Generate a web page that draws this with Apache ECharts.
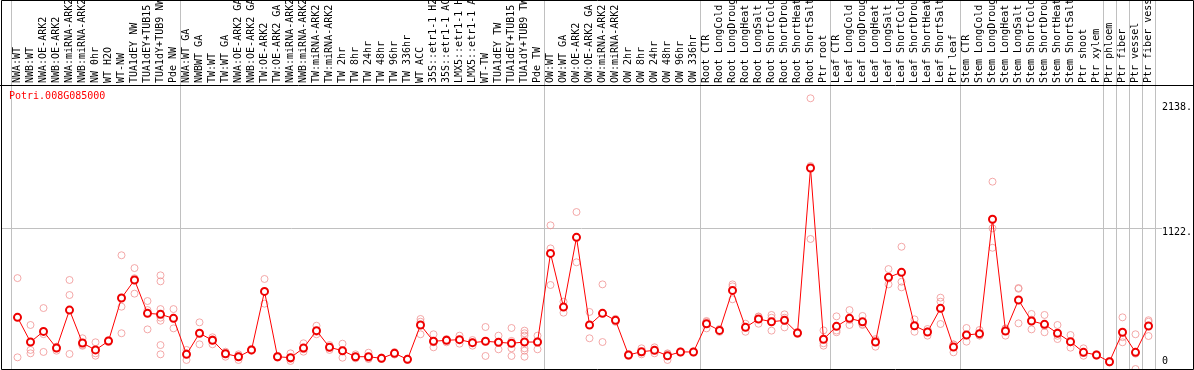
<!DOCTYPE html>
<html>
<head>
<meta charset="utf-8">
<script src="https://cdn.jsdelivr.net/npm/echarts@6/dist/echarts.min.js"></script>
<style>
html,body{margin:0;padding:0;background:#fff;}
#c{width:1194px;height:370px;}
</style>
</head>
<body>
<div id="c"></div>
<script>
const chartTitle = 'Potri.008G085000';

const categories = [
  'NWA:WT','NWB:WT','NWA:OE-ARK2','NWB:OE-ARK2','NWA:miRNA-ARK2','NWB:miRNA-ARK2','NW 0hr','WT H2O','WT-NW',
  'TUA1dEY NW','TUA1dEY+TUB15 NW','TUA1dY+TUB9 NW','Pde NW',
  'NWA:WT GA','NWBWT GA','TW:WT','TW:WT GA','NWA:OE-ARK2 GA','NWB:OE-ARK2 GA','TW:OE-ARK2','TW:OE-ARK2 GA',
  'NWA:miRNA-ARK2','NWB:miRNA-ARK2','TW:miRNA-ARK2','TW:miRNA-ARK2','TW 2hr','TW 8hr','TW 24hr','TW 48hr',
  'TW 96hr','TW 336hr','WT ACC','35S::etr1-1 H2O','35S::etr1-1 ACC','LMX5::etr1-1 H2O','LMX5::etr1-1 ACC',
  'WT-TW','TUA1dEY TW','TUA1dEY+TUB15 TW','TUA1dY+TUB9 TW','Pde TW',
  'OW:WT','OW:WT GA','OW:OE-ARK2','OW:OE-ARK2 GA','OW:miRNA-ARK2','OW:miRNA-ARK2','OW 2hr','OW 8hr','OW 24hr',
  'OW 48hr','OW 96hr','OW 336hr',
  'Root CTR','Root LongCold','Root LongDrought','Root LongHeat','Root LongSalt','Root ShortCold',
  'Root ShortDrought','Root ShortHeat','Root ShortSalt','Ptr root',
  'Leaf CTR','Leaf LongCold','Leaf LongDrought','Leaf LongHeat','Leaf LongSalt','Leaf ShortCold',
  'Leaf ShortDrought','Leaf ShortHeat','Leaf ShortSalt','Ptr leaf',
  'Stem CTR','Stem LongCold','Stem LongDrought','Stem LongHeat','Stem LongSalt','Stem ShortCold',
  'Stem ShortDrought','Stem ShortHeat','Stem ShortSalt','Ptr shoot','Ptr xylem',
  'Ptr phloem','Ptr fiber','Ptr vessel','Ptr fiber vessel'
];

// number of categories in each separated group (left to right)
const groupSizes = [13, 28, 12, 10, 10, 11, 1, 1, 1, 1];

const means = [
  412, 215, 300, 167, 470, 207, 152, 223, 566, 710, 444, 436, 404,
  117, 285, 229, 122, 98, 152, 619, 98, 90, 167, 306, 173, 146, 98, 98, 85, 125, 77, 351,
  221, 229, 234, 210, 221, 213, 205, 215, 215,
  922, 494, 1050, 351, 444, 388, 112, 138, 149, 106, 136, 136,
  361, 308, 627, 332, 399, 377, 388, 287, 1603, 237,
  340, 404, 377, 215, 731, 771, 345, 295, 484, 175,
  271, 282, 1194, 303, 550, 383, 356, 285, 218, 133, 112,
  58, 293, 133, 343
];

const replicates = [
  [725, 93], [351, 152, 125], [486, 136, 278], [178, 146, 177], [710, 590, 120], [245, 191, 185],
  [213, 125, 106], [230, 215, 224], [907, 497, 285], [805, 601, 724], [542, 470, 316],
  [747, 699, 478, 409, 385, 191, 117], [478, 324],
  [152, 72, 127], [372, 197], [253, 197, 237], [138, 98, 130], [117, 72, 105], [160, 145, 151],
  [718, 521], [105, 90], [125, 64, 81], [205, 138, 158], [345, 277, 296], [191, 152, 176],
  [202, 90], [117, 85, 92], [130, 80, 84], [92, 80], [135, 115], [82, 72], [399, 277, 377],
  [277, 173, 213], [239, 213, 235], [266, 202], [231, 186, 213], [335, 104], [266, 157, 216],
  [327, 165, 104, 224], [306, 285, 266, 165, 146, 98], [266, 157, 222],
  [1146, 962, 670], [537, 449], [1252, 851], [455, 245], [675, 215], [400, 376], [120, 104],
  [165, 117, 132], [173, 125], [125, 72, 121], [140, 132], [140, 132],
  [383, 324, 376], [320, 296], [675, 659, 556], [361, 297], [417, 361, 419], [431, 409, 306],
  [436, 409, 332], [295, 280], [2159, 1619, 1037], [308, 205, 186],
  [420, 293, 307], [470, 351, 391], [423, 351, 357], [239, 178, 228], [797, 675, 721],
  [975, 696, 651], [396, 297], [319, 266, 300], [569, 537, 359], [197, 133, 195],
  [327, 218, 268], [311, 266, 269], [1494, 1122, 967], [324, 266, 319], [646, 364, 640],
  [439, 316, 394], [431, 293, 344], [351, 239, 265], [271, 170, 213], [165, 106, 128], [118, 106],
  [64, 52], [412, 213, 254], [277, 0, 122], [377, 263, 389]
];

const yTicks = [0, 1122, 2138];
const yTickLabels = ['0', '1122.', '2138.'];
const gridLineValue = 1122;

const mono = 'DejaVu Sans Mono';
const boundaries = [0];
groupSizes.forEach(s => boundaries.push(boundaries[boundaries.length - 1] + s));
const sepSet = new Set(boundaries);
const sepInterval = (idx) => sepSet.has(idx);
const repData = [];
replicates.forEach((arr, i) => arr.forEach(v => repData.push([i, v])));

const chart = echarts.init(document.getElementById('c'), null, {renderer: 'canvas'});
const sepLine = {show: true, interval: sepInterval, lineStyle: {color: '#c0c0c0', width: 1}};

chart.setOption({
  animation: false,
  title: {
    text: chartTitle, left: 9, top: 91, padding: 0,
    textStyle: {color: '#ff0000', fontSize: 10, fontFamily: mono, fontWeight: 'normal'}
  },
  grid: [
    {left: 11, right: 39, top: 0, height: 85, outerBoundsMode: 'none', containLabel: false},
    {left: 11, right: 39, top: 85, bottom: 1, outerBoundsMode: 'none', containLabel: false}
  ],
  xAxis: [
    {gridIndex: 0, type: 'category', data: categories, boundaryGap: true,
     axisLine: {show: false}, axisTick: {show: false}, axisLabel: {show: false}, splitLine: sepLine},
    {gridIndex: 1, type: 'category', data: categories, position: 'top', boundaryGap: true,
     axisLine: {show: false}, axisTick: {show: false},
     axisLabel: {show: true, interval: 0, rotate: 90, margin: 2, align: 'left', verticalAlign: 'middle',
                 fontSize: 10, fontFamily: mono, color: '#000', hideOverlap: false},
     splitLine: sepLine}
  ],
  yAxis: [
    {gridIndex: 0, type: 'value', show: false},
    {gridIndex: 1, type: 'value', min: 0, max: 2265, position: 'right',
     axisLine: {show: false}, axisTick: {show: false}, splitLine: {show: false},
     axisLabel: {
       customValues: yTicks, margin: 7, align: 'left', verticalAlign: 'middle',
       fontSize: 10, fontFamily: mono, color: '#000',
       formatter: (v) => {
         const i = yTicks.indexOf(v);
         const t = yTickLabels[i];
         if (i === 0) return '{t|' + t + '}\n{s0| }';
         return '{s' + i + '| }\n{t|' + t + '}';
       },
       rich: {
         t: {fontSize: 10, fontFamily: mono, color: '#000', lineHeight: 12},
         s0: {fontSize: 1, lineHeight: 14.6},
         s1: {fontSize: 1, lineHeight: 8},
         s2: {fontSize: 1, lineHeight: 12.8}
       }
     }}
  ],
  series: [
    {type: 'scatter', xAxisIndex: 1, yAxisIndex: 1, data: repData, symbol: 'circle', symbolSize: 7,
     itemStyle: {color: 'rgba(255,255,255,0)', borderColor: '#f09494', borderWidth: 1},
     z: 2, silent: true, emphasis: {disabled: true}},
    {type: 'line', xAxisIndex: 1, yAxisIndex: 1, data: means, symbol: 'emptyCircle', symbolSize: 7,
     showAllSymbol: true, lineStyle: {color: '#ff0000', width: 1},
     itemStyle: {color: '#ee0000', borderWidth: 1.5}, z: 3, silent: true, emphasis: {disabled: true}}
  ]
});

const yg = Math.round(chart.convertToPixel({yAxisIndex: 1}, gridLineValue)) + 0.5;
chart.setOption({
  graphic: [
    {type: 'line', z: 1, silent: true, shape: {x1: 1, y1: yg, x2: 1162, y2: yg}, style: {stroke: '#c0c0c0', lineWidth: 1}},
    {type: 'line', z: 100, silent: true, shape: {x1: 0, y1: 85.5, x2: 1194, y2: 85.5}, style: {stroke: '#000', lineWidth: 1}},
    {type: 'rect', z: 100, silent: true, shape: {x: 1.5, y: 0.5, width: 1192, height: 369}, style: {fill: 'none', stroke: '#000', lineWidth: 1}}
  ]
});
</script>
</body>
</html>
